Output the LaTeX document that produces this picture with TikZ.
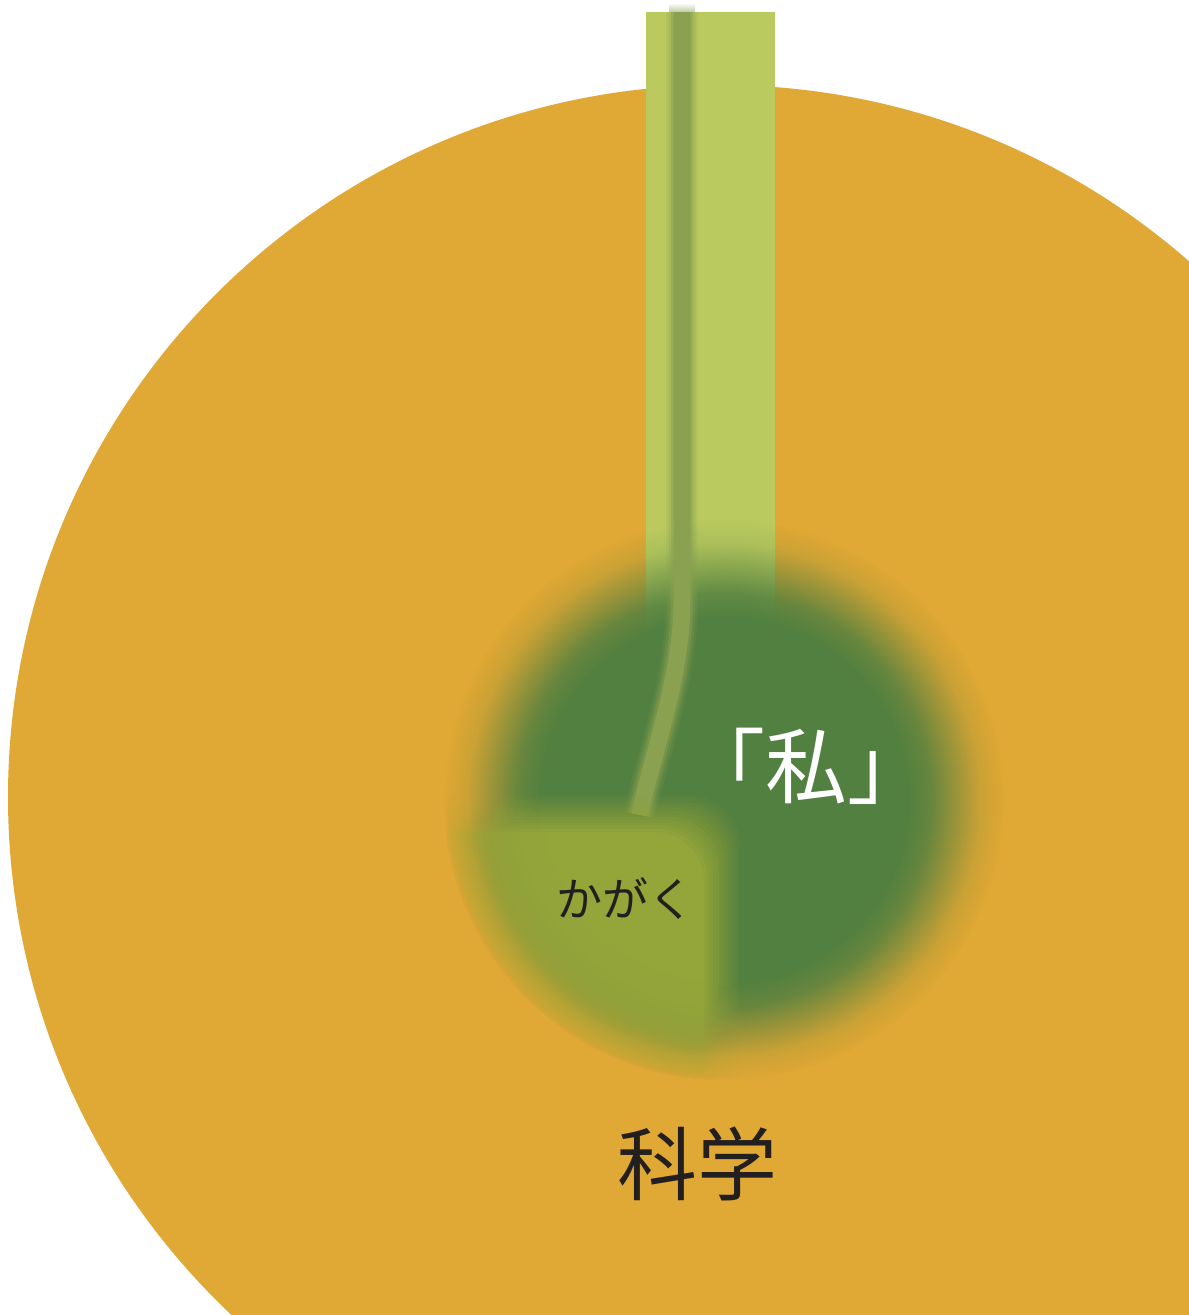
\documentclass[tikz,border=0pt]{standalone}
\usepackage{fontspec}
\newfontfamily\jpfont{Noto Sans CJK JP}
\usetikzlibrary{fadings}

\definecolor{sciorange}{RGB}{224,168,52}
\definecolor{stemgreen}{RGB}{187,202,95}
\definecolor{coregreen}{RGB}{82,128,64}
\definecolor{leafgreen}{RGB}{148,165,58}
\definecolor{veingreen}{RGB}{137,161,80}
\definecolor{inkdark}{RGB}{35,31,30}

% opaque core with a soft, blurred rim (white = opaque, black = clear)
\pgfdeclareradialshading{softdiskmask}{\pgfpointorigin}{%
  color(0bp)=(white);
  color(16.2bp)=(white);
  color(18.4bp)=(black!15!white);
  color(20.6bp)=(black!50!white);
  color(22.8bp)=(black!85!white);
  color(25bp)=(black);
  color(50bp)=(black)}
\pgfdeclarefading{softdisk}{\pgfuseshading{softdiskmask}}

\begin{document}
\begin{tikzpicture}[x=1pt,y=-1pt,
  label/.style={font=\jpfont, anchor=base, inner sep=0pt}]
\useasboundingbox (0,0) rectangle (1189,1315);
\fill[white] (0,0) rectangle (1189,1315);

% the large field: science
\begin{scope}
  \clip (0,0) rectangle (1189,1315);
  \fill[sciorange] (720,797) circle (712);
\end{scope}

% the stem coming in from above
\fill[stemgreen] (646,12) rectangle (775,700);

% the self: a soft dark-green core
\fill[coregreen, path fading=softdisk] (724,800) circle (280);

% vein running down the stem into the core
\coordinate (veintop) at (682,12);
\coordinate (veinbend) at (682,600);
\coordinate (veinend) at (640,815);
\fill[top color=white, bottom color=veingreen!55!white] (669,3) rectangle (695,12);
\foreach \w/\o in {32/0.15,27/0.25,22/0.45,17/1} {
  \draw[veingreen, line width=\w pt, draw opacity=\o]
    (veintop) -- (veinbend) .. controls (682,680) and (650,760) .. (veinend);
}

% lighter lower-left part of the core; stacked layers give it a soft edge
\foreach \k in {1,...,13} {
  \pgfmathsetmacro{\d}{-21+3*\k}
  \pgfmathsetmacro{\o}{1/(14-\k)}
  \begin{scope}
    \clip[rounded corners=50pt] (380,814+\d) -- (722-\d,814+\d) -- (722-\d,1140) -- (380,1140) -- cycle;
    \fill[leafgreen, fill opacity=\o, path fading=softdisk] (724,800) circle (280);
  \end{scope}
}

% labels
\node[label, text=white, font=\jpfont\fontsize{82}{82}\selectfont] (self) at (806,797) {「私」};
\node[label, text=inkdark, font=\jpfont\fontsize{46}{46}\selectfont] (kana) at (625,916) {かがく};
\node[label, text=inkdark, font=\jpfont\fontsize{80}{80}\selectfont] (science) at (697,1194) {科学};
\end{tikzpicture}
\end{document}
